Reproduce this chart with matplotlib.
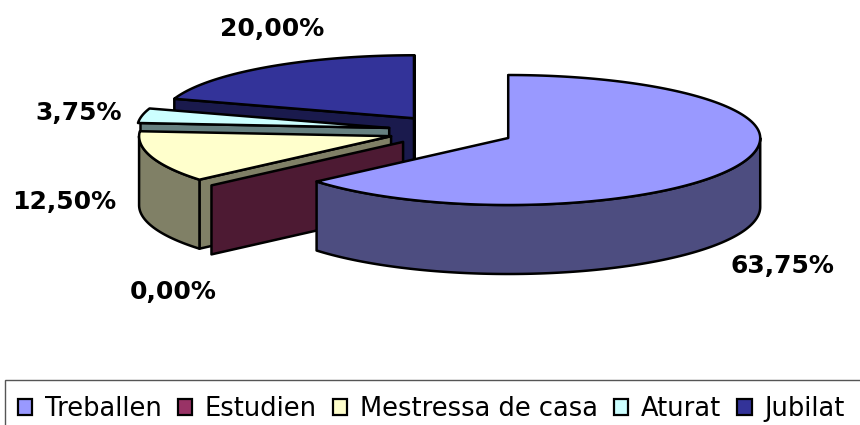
import numpy as np
import matplotlib
matplotlib.use("Agg")
import matplotlib.pyplot as plt
from matplotlib.patches import Patch, Polygon, Rectangle

categories = ["Treballen", "Estudien", "Mestressa de casa", "Aturat", "Jubilat"]
shares = [63.75, 0.0, 12.50, 3.75, 20.00]
top_colors = ["#9999FF", "#993366", "#FFFFCC", "#CCFFFF", "#333399"]
side_colors = ["#4D4D80", "#4D1A33", "#808066", "#668080", "#1A1A4D"]
label_xy = [(782, 266), (173, 292), (64, 202), (79, 113), (272, 29)]

# pie geometry in pixels
CX, CY = 451, 131
RX = 252
RY_BACK, RY_FRONT = 63, 67   # back half is a bit flatter (perspective)
DEPTH = 69
EXPLODE = 0.25


def pt(theta, cx, cy, r=1.0):
    """theta in degrees, clockwise from 12 o'clock"""
    t = np.radians(theta)
    c = np.cos(t)
    ry = np.where(c > 0, RY_BACK, RY_FRONT)
    return np.array([cx + r * RX * np.sin(t), cy - r * ry * c])


def arc(a, b, cx, cy):
    th = np.linspace(a, b, max(2, int(abs(b - a)) + 2))
    return pt(th, cx, cy).T


fig = plt.figure(figsize=(8.6, 4.25), dpi=100)
ax = fig.add_axes([0, 0, 1, 1])
ax.set_xlim(0, 860); ax.set_ylim(425, 0); ax.axis("off")

edges = np.cumsum([0] + shares) * 3.6
pie_kw = dict(edgecolor="black", lw=1.8, joinstyle="round")

# paint from the back wedge to the front wedge
for i in [4, 3, 2, 1, 0]:
    a, b = edges[i], edges[i + 1]
    mid = (a + b) / 2
    ry = RY_BACK if np.cos(np.radians(mid)) > 0 else RY_FRONT
    cx = CX + EXPLODE * RX * np.sin(np.radians(mid))
    cy = CY - EXPLODE * ry * np.cos(np.radians(mid))
    down = np.array([0, DEPTH])
    apex = np.array([cx, cy])
    lo, hi = max(a, 90), min(b, 270)

    # radial wall on the leading edge
    p = pt(a, cx, cy, 1.0 if hi > lo or i == 4 or b == a else 0.99)
    ax.add_patch(Polygon([apex, p, p + down, apex + down], fc=side_colors[i], **pie_kw))
    if b - a < 1e-6:
        continue
    # far radial wall, only the back wedge shows it
    if i == 4:
        p = pt(b, cx, cy)
        ax.add_patch(Polygon([apex, p, p + down, apex + down], fc=side_colors[i], **pie_kw))
    # rim
    if hi > lo:
        rim = arc(lo, hi, cx, cy)
        ax.add_patch(Polygon(np.vstack([rim, (rim + down)[::-1]]), fc=side_colors[i], **pie_kw))
    # top face
    ax.add_patch(Polygon(np.vstack([apex, arc(a, b, cx, cy)]), fc=top_colors[i], **pie_kw))

for v, (x, y) in zip(shares, label_xy):
    ax.text(x, y, f"{v:.2f}".replace(".", ",") + "%", ha="center", va="center",
            fontsize=18, fontweight="bold", family="DejaVu Sans")

# legend box runs off the right and bottom of the picture
ax.add_patch(Rectangle((5, 380), 900, 80, fc="white", ec="#555555", lw=1.0))
handles = [Patch(fc=c, ec="black", lw=1.6) for c in top_colors]
ax.legend(handles, categories, ncol=5, loc="upper left", bbox_to_anchor=(18, 396),
          bbox_transform=ax.transData, borderaxespad=0, frameon=False, handlelength=0.55,
          handleheight=0.55, handletextpad=0.5, columnspacing=0.62, borderpad=0,
          prop={"family": "DejaVu Sans", "size": 18.55})

fig.savefig("out.png", dpi=100)
